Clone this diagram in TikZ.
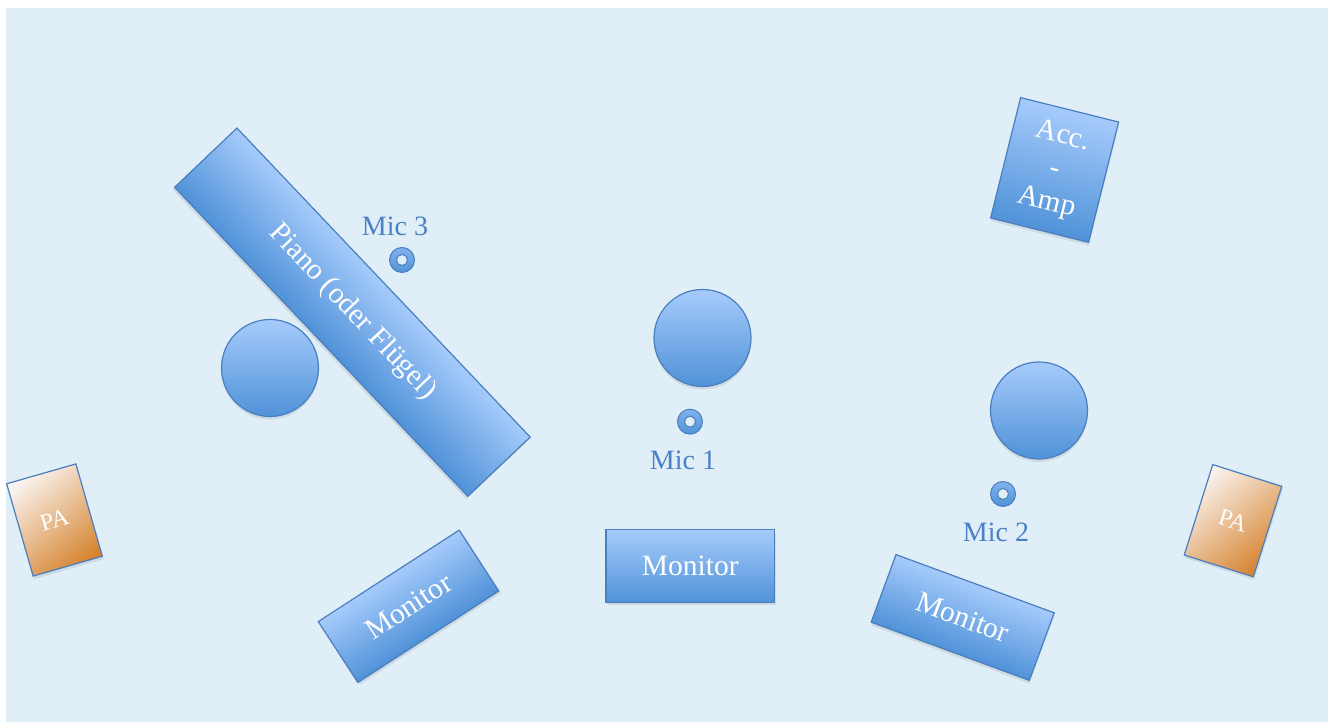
\documentclass[tikz,border=0pt]{standalone}
\usepackage{fontspec}
\setmainfont{Liberation Serif}
\usetikzlibrary{positioning,shadows}

\begin{document}
\begin{tikzpicture}[x=1pt,y=1pt,
  stagebox/.style={draw=borderColor, line width=1.2pt, top color=boxLight, bottom color=boxDark,
    text=white, inner sep=0pt, align=center, font=\fontsize{29.5}{34}\selectfont,
    drop shadow={opacity=0.18, shadow xshift=1pt, shadow yshift=-3pt}},
  pabox/.style={stagebox, top color=paLight, bottom color=paDark, shading angle=40,
    font=\fontsize{24}{28}\selectfont},
  seat/.style={circle, draw=borderColor, line width=1.2pt, top color=boxLight, bottom color=boxDark,
    minimum size=97pt, inner sep=0pt,
    drop shadow={opacity=0.18, shadow xshift=0pt, shadow yshift=-3pt}},
  micring/.style={circle, draw=borderColor, line width=1pt, top color=ringLight, bottom color=boxDark,
    minimum size=25pt, inner sep=0pt,
    path picture={\draw[borderColor, fill=bgColor, line width=1pt] (path picture bounding box.center) circle (5.5pt);}},
  miclabel/.style={text=micColor, inner sep=0pt, font=\fontsize{28}{34}\selectfont}]
\definecolor{bgColor}{RGB}{224,239,247}
\definecolor{borderColor}{RGB}{74,126,190}
\definecolor{boxLight}{RGB}{166,203,251}
\definecolor{boxDark}{RGB}{80,146,216}
\definecolor{ringLight}{RGB}{130,178,236}
\definecolor{paLight}{RGB}{250,244,240}
\definecolor{paDark}{RGB}{214,132,48}
\definecolor{micColor}{RGB}{74,128,198}
\path[use as bounding box,fill=white] (0,0) rectangle (1328,722);
\path[fill=bgColor] (6,0) rectangle (1328,714);

% instruments and amps
\begin{scope}[transform canvas={shift={(352.4,409.8)}, rotate=-46.5}]
\node[stagebox, minimum width=426pt, minimum height=86pt] (piano) at (0,0) {Piano (oder Flügel)};
\end{scope}
\begin{scope}[transform canvas={shift={(1054.6,552)}, rotate=-14}]
\node[stagebox, minimum width=101pt, minimum height=124pt] (accamp) at (0,0) {Acc.\\-\\Amp};
\end{scope}

% players
\node[seat] (seatL) at (270,354) {};
\node[seat] (seatC) at (702.5,384) {};
\node[seat] (seatR) at (1039,311.5) {};

% microphones
\node[micring] (mic3) at (402,462) {};
\node[micring] (mic1) at (690,300.3) {};
\node[micring] (mic2) at (1003,228) {};
\node[miclabel, above=11pt of mic3, xshift=-7pt] (mic3label) {Mic 3};
\node[miclabel, below=16pt of mic1, xshift=-7pt] (mic1label) {Mic 1};
\node[miclabel, below=16pt of mic2, xshift=-7pt] (mic2label) {Mic 2};

% monitors
\begin{scope}[transform canvas={shift={(408.5,115.7)}, rotate=33}]
\node[stagebox, minimum width=168pt, minimum height=72.6pt] (monL) at (0,0) {Monitor};
\end{scope}
\node[stagebox, minimum width=168.7pt, minimum height=72.6pt] (monC) at (690.3,156) {Monitor};
\begin{scope}[transform canvas={shift={(962.7,104.5)}, rotate=-20.2}]
\node[stagebox, minimum width=168.6pt, minimum height=72pt] (monR) at (0,0) {Monitor};
\end{scope}

% PA
\node[pabox, minimum width=72pt, minimum height=96pt, rotate=16] (paL) at (54.5,202) {PA};
\node[pabox, minimum width=72.4pt, minimum height=94.8pt, rotate=-17.5] (paR) at (1233,201.3) {PA};
\end{tikzpicture}
\end{document}
